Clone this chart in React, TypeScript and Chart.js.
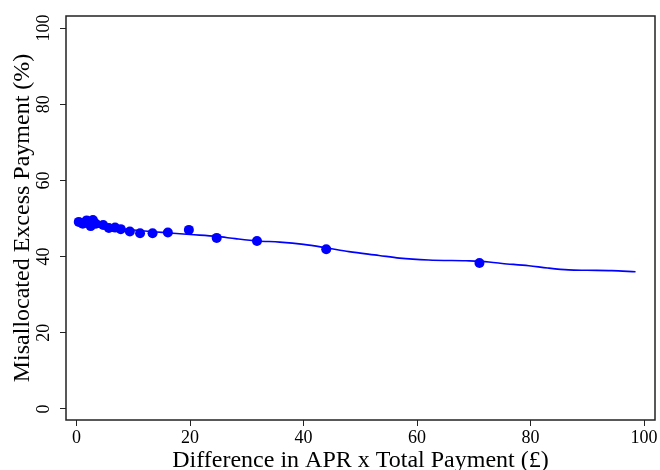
import React, { useEffect, useRef } from "react";
import { Chart, registerables } from "chart.js";

Chart.register(...registerables);

// Binned scatter points (x: Difference in APR x Total Payment, y: Misallocated %)
const pointX = [0.4, 1.1, 1.8, 2.5, 2.9, 3.4, 4.7, 5.7, 6.8, 7.8, 9.4, 11.2, 13.4, 16.1, 19.8, 24.7, 31.8, 44.0, 71.0];
const pointY = [49.1, 48.6, 49.5, 48.0, 49.6, 48.6, 48.3, 47.5, 47.6, 47.2, 46.6, 46.1, 46.1, 46.3, 47.0, 44.9, 44.1, 41.9, 38.3];

// Fitted line
const lineX = [0.4, 4, 8.5, 12, 16.4, 20, 24.7, 28, 31.9, 35.8, 40, 44, 48, 53.3, 56.9, 62, 68.6, 70.9, 75, 79.7, 83, 86.7, 90, 94.3, 98.5];
const lineY = [48.5, 47.8, 47.2, 46.7, 46.2, 45.8, 45.3, 44.7, 44.1, 43.8, 43.2, 42.3, 41.3, 40.3, 39.6, 39.1, 38.9, 38.8, 38.2, 37.6, 37.0, 36.5, 36.4, 36.3, 36.0];

const xTicks = [0, 20, 40, 60, 80, 100];
const yTicks = [0, 20, 40, 60, 80, 100];

const xTitle = "Difference in APR x Total Payment (£)";
const yTitle = "Misallocated Excess Payment (%)";

const FONT = "'Liberation Serif', 'Times New Roman', serif";

const boxPlugin = {
  id: "boxPlugin",
  afterDraw(chart: any) {
    const { ctx, chartArea } = chart;
    ctx.save();
    ctx.strokeStyle = "#222";
    ctx.lineWidth = 1.5;
    ctx.strokeRect(chartArea.left, chartArea.top, chartArea.right - chartArea.left, chartArea.bottom - chartArea.top);
    ctx.restore();
  },
};

export default function App() {
  const ref = useRef<HTMLCanvasElement>(null);
  useEffect(() => {
    if (!ref.current) return;
    const chart = new Chart(ref.current, {
      type: "scatter",
      data: {
        datasets: [
          {
            label: "bins",
            data: pointX.map((x, i) => ({ x, y: pointY[i] })),
            backgroundColor: "#0000ff",
            borderColor: "#0000ff",
            pointRadius: 5,
            pointBorderWidth: 0,
            showLine: false,
            order: 0,
          },
          {
            label: "fit",
            data: lineX.map((x, i) => ({ x, y: lineY[i] })),
            borderColor: "#0000ff",
            backgroundColor: "#0000ff",
            borderWidth: 1.6,
            pointRadius: 0,
            showLine: true,
            cubicInterpolationMode: "monotone",
            order: 1,
          },
        ],
      },
      plugins: [boxPlugin],
      options: {
        responsive: false,
        animation: false,
        layout: { padding: { left: 8, top: 16, right: 4, bottom: 0 } },
        plugins: { legend: { display: false }, tooltip: { enabled: false } },
        scales: {
          x: {
            type: "linear",
            min: -1.85,
            max: 101.93,
            afterBuildTicks: (s: any) => {
              s.ticks = xTicks.map((v) => ({ value: v }));
            },
            afterFit: (s: any) => {
              s.height = 50;
            },
            grid: { drawOnChartArea: false, drawTicks: true, tickLength: 6, color: "#222", lineWidth: 1 },
            border: { display: false },
            ticks: { font: { family: FONT, size: 18 }, color: "#000", padding: 1, maxRotation: 0 },
            title: { display: true, text: xTitle, font: { family: FONT, size: 24, lineHeight: 0.75 }, color: "#000", padding: 0 },
          },
          y: {
            type: "linear",
            min: -2.9,
            max: 103.15,
            afterBuildTicks: (s: any) => {
              s.ticks = yTicks.map((v) => ({ value: v }));
            },
            afterFit: (s: any) => {
              s.width = 58;
            },
            grid: { drawOnChartArea: false, drawTicks: true, tickLength: 6, color: "#222", lineWidth: 1 },
            border: { display: false },
            ticks: {
              font: { family: FONT, size: 18 },
              color: "#000",
              padding: 2.5,
              minRotation: 90,
              maxRotation: 90,
              crossAlign: "center",
            },
            title: { display: true, text: yTitle, font: { family: FONT, size: 24 }, color: "#000", padding: 0 },
          },
        },
      },
    });
    return () => chart.destroy();
  }, []);
  return (
    <div style={{ position: "fixed", left: 0, top: 0, width: 660, height: 470, background: "#fff" }}>
      <canvas ref={ref} width={660} height={470} />
    </div>
  );
}
